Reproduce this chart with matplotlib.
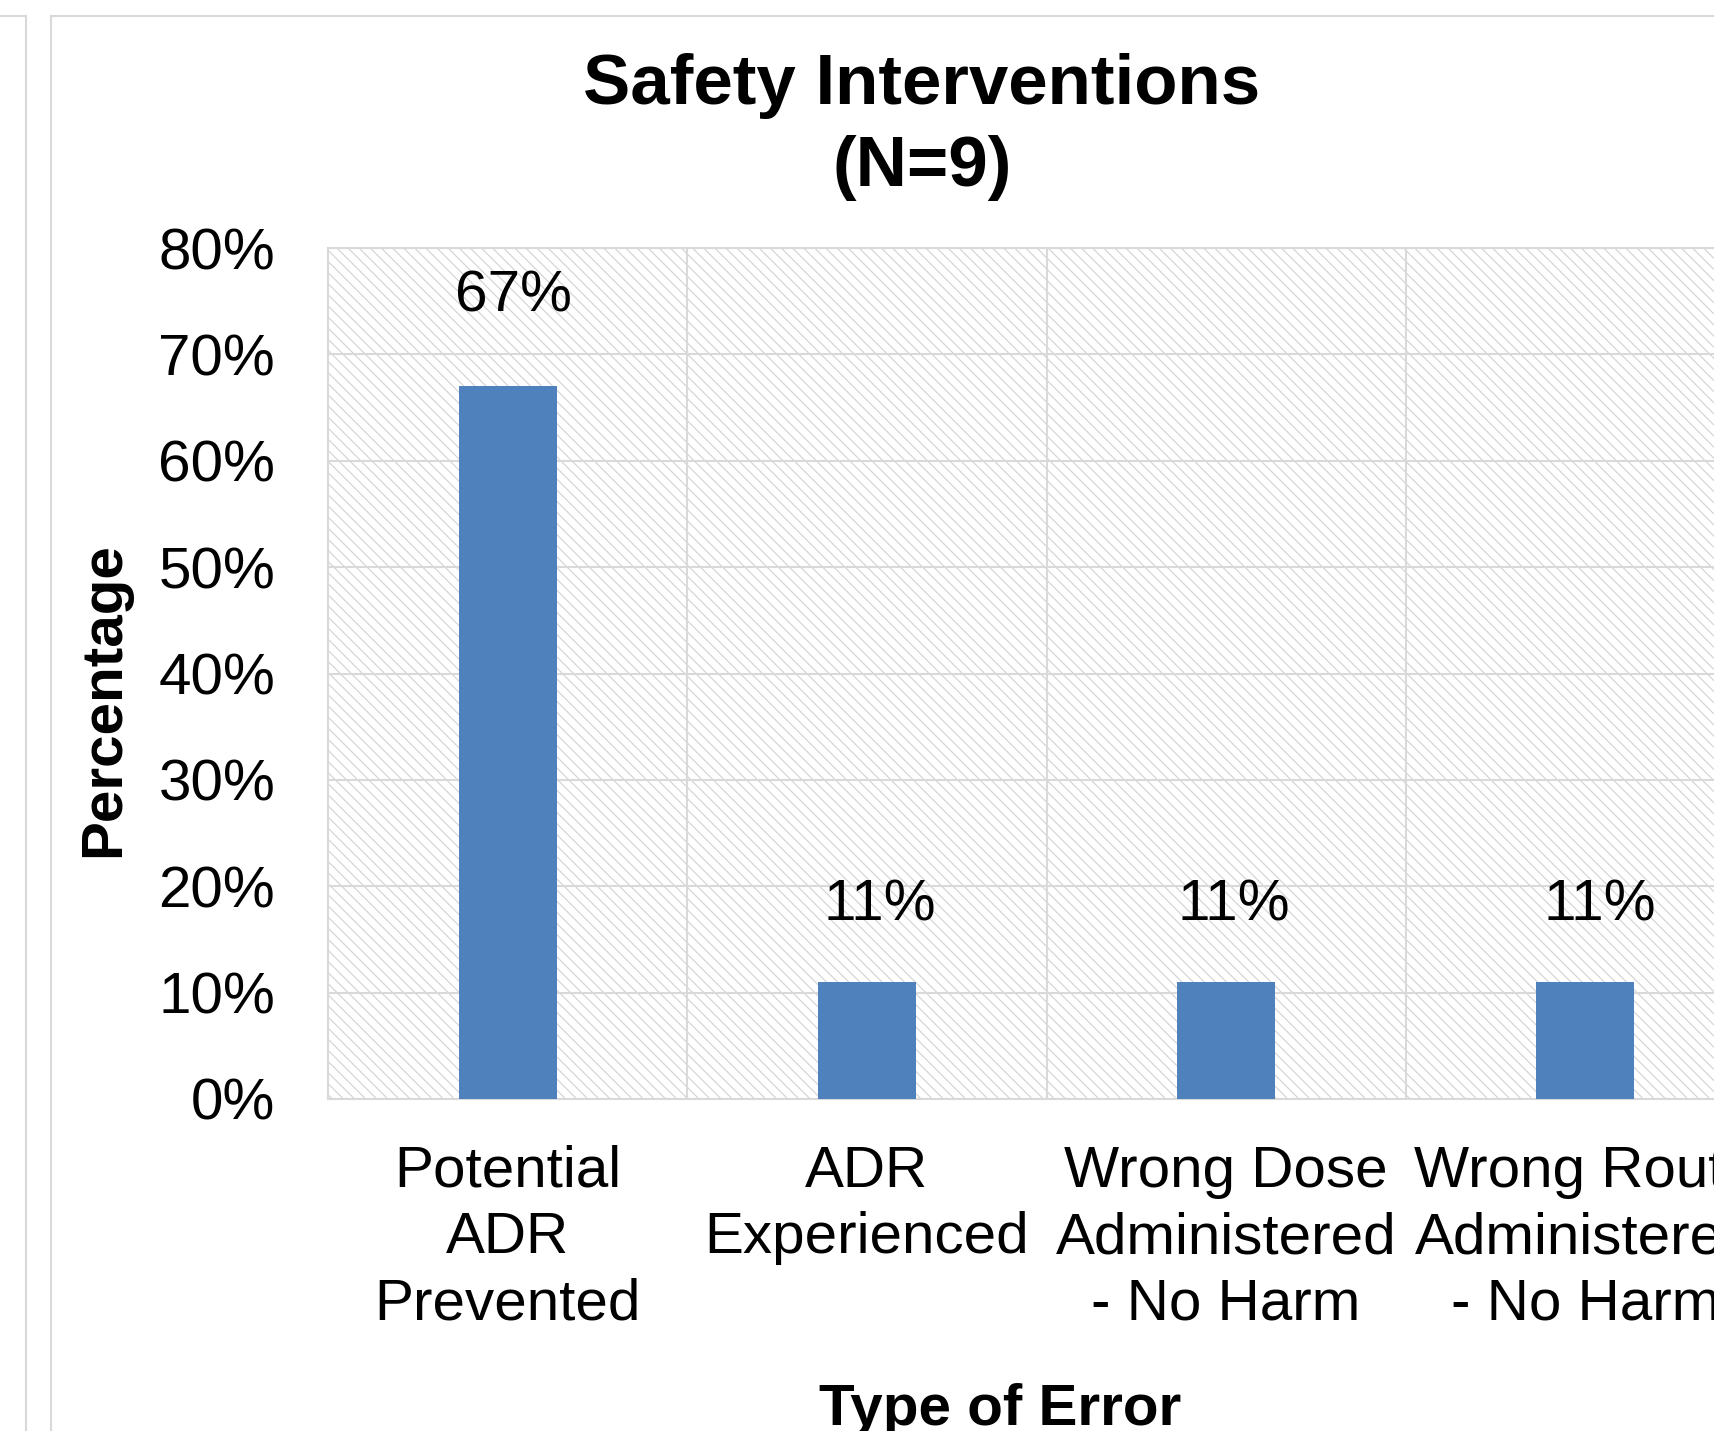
import matplotlib
matplotlib.use("Agg")
import matplotlib.pyplot as plt
from matplotlib.patches import Rectangle
from matplotlib.lines import Line2D

# Chart data
categories = [
    "Potential\nADR\nPrevented",
    "ADR\nExperienced",
    "Wrong Dose\nAdministered\n- No Harm",
    "Wrong Route\nAdministered\n- No Harm",
]
percentages = [67, 11, 11, 11]
y_ticks = [0, 10, 20, 30, 40, 50, 60, 70, 80]
y_tick_labels = [f"{t}%" for t in y_ticks]

title_line1 = "Safety Interventions"
title_line2 = "(N=9)"
x_title = "Type of Error"
y_title = "Percentage"

# Label nudges in pixels (dx, dy above bar top)
label_offsets_px = [(6, 90), (13, 76), (8, 76), (14, 76)]

W, H, DPI = 1714, 1431, 100
plt.rcParams["font.family"] = ["Liberation Sans", "DejaVu Sans"]

BAR = "#4f81bd"
GRID = "#d9d9d9"
HATCH = "#d2d2d2"
plt.rcParams["hatch.linewidth"] = 0.8

fig = plt.figure(figsize=(W / DPI, H / DPI), dpi=DPI)
fig.patch.set_facecolor("white")

def fx(px):
    return px / W

def fy(py):
    return 1 - py / H

# Plot area (extends beyond the right edge of the canvas)
left, right, top, bottom = 328, 1765, 248, 1099
ax = fig.add_axes([fx(left), fy(bottom), (right - left) / W, (bottom - top) / H])
ax.set_facecolor("white")

# Diagonal hatched plot background
bg = Rectangle((0, 0), 1, 1, transform=ax.transAxes, facecolor="white",
               edgecolor=HATCH, hatch="\\\\\\", linewidth=0, zorder=0)
ax.add_patch(bg)

x = list(range(len(categories)))
bars = ax.bar(x, percentages, width=0.273, color=BAR, zorder=3)

ax.set_xlim(-0.5, len(categories) - 0.5)
ax.set_ylim(0, 80)

ax.set_yticks(y_ticks)
ax.set_yticklabels(y_tick_labels, fontsize=42)
ax.set_xticks(x)
ax.set_xticklabels(categories, fontsize=42, linespacing=1.29)
ax.set_xticks([i + 0.5 for i in x[:-1]], minor=True)
ax.tick_params(axis="both", which="both", length=0)
ax.tick_params(axis="y", pad=38)
ax.tick_params(axis="x", pad=33)

ax.grid(axis="y", which="major", color=GRID, linewidth=1.5, zorder=1)
ax.grid(axis="x", which="minor", color=GRID, linewidth=1.5, zorder=1)
ax.grid(axis="x", which="major", visible=False)
ax.set_axisbelow(True)
for side in ["left", "bottom", "top", "right"]:
    ax.spines[side].set_color(GRID)
    ax.spines[side].set_linewidth(1.5)

# Value labels
for b, v, (dx, dy) in zip(bars, percentages, label_offsets_px):
    ax.annotate(f"{v}%", xy=(b.get_x() + b.get_width() / 2, v),
                xytext=(dx * 0.72, dy * 0.72), textcoords="offset points",
                ha="center", va="center", fontsize=42, zorder=4)

# Titles
fig.text(fx(922), fy(104), title_line1, ha="center", va="baseline",
         fontsize=51, fontweight="bold")
fig.text(fx(922), fy(186), title_line2, ha="center", va="baseline",
         fontsize=51, fontweight="bold")
fig.text(fx(104), fy(700), y_title, ha="center", va="center", rotation=90,
         fontsize=42, fontweight="bold")
fig.text(fx(1000), fy(1425), x_title, ha="center", va="baseline",
         fontsize=42, fontweight="bold")

# Chart frames
def frame_line(x0, y0, x1, y1):
    fig.add_artist(Line2D([fx(x0), fx(x1)], [fy(y0), fy(y1)],
                          color=GRID, linewidth=1.5, transform=fig.transFigure))

frame_line(0, 16, 26, 16)
frame_line(26, 16, 26, H + 5)
frame_line(51, 16, W + 5, 16)
frame_line(51, 16, 51, H + 5)

fig.savefig("out.png", dpi=DPI)
